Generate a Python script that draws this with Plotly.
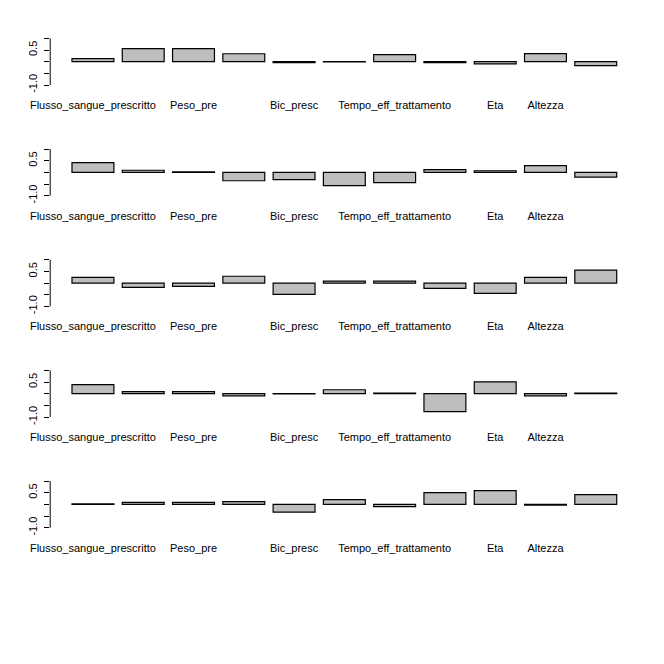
import plotly.graph_objects as go

# Category labels (only those visible in the reference are named)
categorie = ["Flusso_sangue_prescritto", "", "Peso_pre", "", "Bic_presc", "",
             "Tempo_eff_trattamento", "", "Eta", "Altezza", ""]

# Values of the five panels (loadings)
pannello_1 = [0.13, 0.56, 0.56, 0.34, -0.04, -0.01, 0.30, -0.04, -0.09, 0.35, -0.17]
pannello_2 = [0.42, 0.09, 0.02, -0.36, -0.31, -0.57, -0.44, 0.12, 0.07, 0.29, -0.20]
pannello_3 = [0.24, -0.19, -0.14, 0.29, -0.49, 0.08, 0.08, -0.23, -0.44, 0.24, 0.55]
pannello_4 = [0.39, 0.09, 0.09, -0.09, -0.01, 0.17, 0.03, -0.77, 0.51, -0.09, 0.03]
pannello_5 = [0.02, 0.09, 0.09, 0.12, -0.33, 0.20, -0.10, 0.50, 0.59, -0.03, 0.42]

y_tick_vals = [-1.0, -0.5, 0.0, 0.5, 1.0]
y_tick_text = ["-1.0", "", "", "0.5", ""]

pannelli = [pannello_1, pannello_2, pannello_3, pannello_4, pannello_5]

W = H = 664
FONT = "Liberation Sans, Arial, sans-serif"
ROW = 110.67
x_left_px, x_right_px = 50.2, 638.5

fig = go.Figure()
layout = dict(
    width=W, height=H,
    margin=dict(l=0, r=0, t=0, b=0, autoexpand=False),
    paper_bgcolor="white", plot_bgcolor="white",
    showlegend=False,
    font=dict(family=FONT, size=11, color="black"),
)

xs = list(range(len(categorie)))
for k, vals in enumerate(pannelli):
    n = "" if k == 0 else str(k + 1)
    top_px = 36.5 + ROW * k
    bot_px = 86.9 + ROW * k
    fig.add_trace(go.Bar(
        x=xs, y=vals, width=1 / 1.2,
        marker=dict(color="#BEBEBE", line=dict(color="black", width=1.2)),
        xaxis="x" + n, yaxis="y" + n, hoverinfo="skip",
    ))
    layout["xaxis" + n] = dict(
        domain=[x_left_px / W, x_right_px / W],
        anchor="y" + n,
        range=[-0.85, 10.85],
        tickmode="array", tickvals=xs, ticktext=categorie,
        ticks="", showline=False, showgrid=False, zeroline=False,
        tickangle=0, ticklabelstandoff=10, automargin=False,
        tickfont=dict(family=FONT, size=11, color="black"),
        fixedrange=True,
    )
    layout["yaxis" + n] = dict(
        domain=[1 - bot_px / H, 1 - top_px / H],
        anchor="x" + n,
        range=[-1.08, 1.08],
        tickmode="array", tickvals=y_tick_vals, ticktext=y_tick_text,
        ticks="outside", ticklen=5, tickwidth=1, tickcolor="black",
        showline=False, showgrid=False, zeroline=False,
        tickangle=-90, ticklabelstandoff=3, automargin=False,
        tickfont=dict(family=FONT, size=11, color="black"),
        fixedrange=True,
    )
    # axis line spanning only from the first to the last tick (like R's axis())
    fig.add_shape(type="line", xref="x" + n + " domain", yref="y" + n,
                  x0=0, x1=0, y0=y_tick_vals[0], y1=y_tick_vals[-1],
                  line=dict(color="black", width=1))

fig.update_layout(**layout)
fig.write_html("out.html")
